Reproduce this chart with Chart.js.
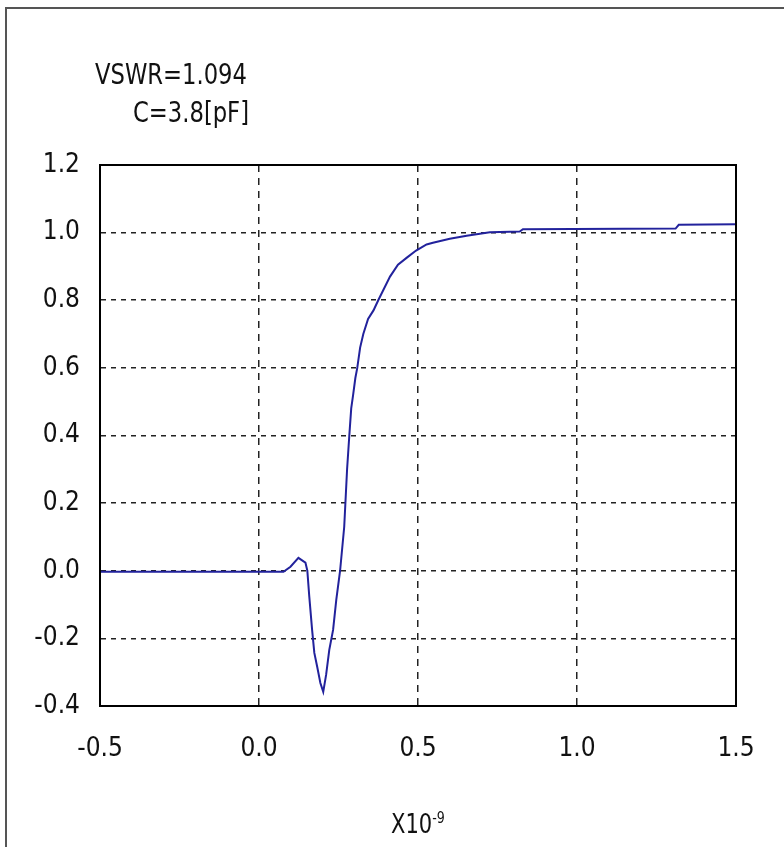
<!DOCTYPE html>
<html>
<head>
<meta charset="utf-8">
<script src="https://cdn.jsdelivr.net/npm/chart.js@4.4.1/dist/chart.umd.min.js"></script>
<style>
body { margin: 0; background: #fff; }
#wrap { position: relative; width: 784px; height: 847px; overflow: hidden; background: #fff; }
#frame { position: absolute; left: 5px; top: 7px; width: 800px; height: 900px; border-left: 2px solid #555; border-top: 2px solid #555; }
#myChart { position: absolute; left: 0; top: 0; }
.note { position: absolute; font-family: "Liberation Sans Narrow", "DejaVu Sans Condensed", sans-serif; color: #111; white-space: nowrap; line-height: 28px; transform: scaleX(0.9); transform-origin: left top; }
sup { font-size: 60%; }
</style>
</head>
<body>
<div id="wrap">
  <div id="frame"></div>
  <canvas id="myChart" width="784" height="847"></canvas>
  <div class="note" style="left:95px; top:61px; font-size:28px;">VSWR=1.094</div>
  <div class="note" style="left:133px; top:99px; font-size:28px;">C=3.8[pF]</div>
  <div class="note" style="left:391px; top:804px; font-size:26px;">X10<sup>-9</sup></div>
</div>
<script>
// time axis (x 1e-9 s) and reflected waveform
var timeVals = [-0.5, 0.0, 0.077, 0.099, 0.124, 0.146, 0.152, 0.158, 0.167, 0.174, 0.183, 0.193, 0.202,
    0.211, 0.221, 0.233, 0.243, 0.255, 0.268, 0.277, 0.284, 0.290, 0.296, 0.303, 0.309, 0.318, 0.328,
    0.343, 0.360, 0.375, 0.412, 0.437, 0.465, 0.494, 0.527, 0.547, 0.600, 0.653, 0.726, 0.820, 0.830,
    1.310, 1.320, 1.500];
var waveVals = [-0.003, -0.003, -0.003, 0.012, 0.038, 0.024, 0.0, -0.075, -0.175, -0.243, -0.284, -0.332, -0.358,
    -0.308, -0.234, -0.175, -0.086, 0.0, 0.13, 0.30, 0.40, 0.48, 0.52, 0.57, 0.60, 0.66, 0.70,
    0.745, 0.77, 0.80, 0.87, 0.905, 0.926, 0.947, 0.965, 0.970, 0.982, 0.991, 1.001, 1.003, 1.010,
    1.012, 1.023, 1.025];

var xTicks = [-0.5, 0.0, 0.5, 1.0, 1.5];
var yTicks = [-0.4, -0.2, 0.0, 0.2, 0.4, 0.6, 0.8, 1.0, 1.2];

var points = [];
for (var i = 0; i < timeVals.length; i++) {
    points.push({ x: timeVals[i], y: waveVals[i] });
}

var tickFont = { family: "'Liberation Sans Narrow', 'DejaVu Sans Condensed', sans-serif", size: 26 };

//draws the closed box round the plot area
var boxPlugin = {
    id: 'box',
    afterDraw: function(chart) {
        var a = chart.chartArea;
        var ctx = chart.ctx;
        ctx.save();
        ctx.strokeStyle = '#000';
        ctx.lineWidth = 2;
        ctx.strokeRect(a.left, a.top, a.right - a.left, a.bottom - a.top);
        ctx.restore();
    }
};

var ctx = document.getElementById("myChart");
var myChart = new Chart(ctx, {
    type: 'scatter',
    data: {
        datasets: [{
            data: points,
            showLine: true,
            borderColor: '#22229c',
            borderWidth: 2,
            pointRadius: 0,
            tension: 0
        }]
    },
    options: {
        responsive: false,
        animation: false,
        layout: { padding: { top: 165, right: 48, left: 0, bottom: 0 } },
        plugins: { legend: { display: false }, tooltip: { enabled: false } },
        scales: {
            x: {
                type: 'linear',
                min: -0.5,
                max: 1.5,
                afterBuildTicks: function(scale) {
                    scale.ticks = xTicks.map(function(v) { return { value: v }; });
                },
                afterFit: function(scale) { scale.height = 141; },
                ticks: {
                    color: '#111',
                    font: tickFont,
                    padding: 28,
                    maxRotation: 0,
                    callback: function(v) { return v.toFixed(1); }
                },
                grid: { color: '#222', lineWidth: 1.5, drawTicks: false },
                border: { color: '#000', width: 2, dash: [7, 6] }
            },
            y: {
                min: -0.4,
                max: 1.2,
                afterBuildTicks: function(scale) {
                    scale.ticks = yTicks.map(function(v) { return { value: v }; });
                },
                afterFit: function(scale) { scale.width = 100; },
                ticks: {
                    color: '#111',
                    font: tickFont,
                    padding: 20,
                    callback: function(v) { return v.toFixed(1); }
                },
                grid: { color: '#222', lineWidth: 1.5, drawTicks: false },
                border: { color: '#000', width: 2, dash: [5, 5] }
            }
        }
    },
    plugins: [boxPlugin]
});
</script>
</body>
</html>
